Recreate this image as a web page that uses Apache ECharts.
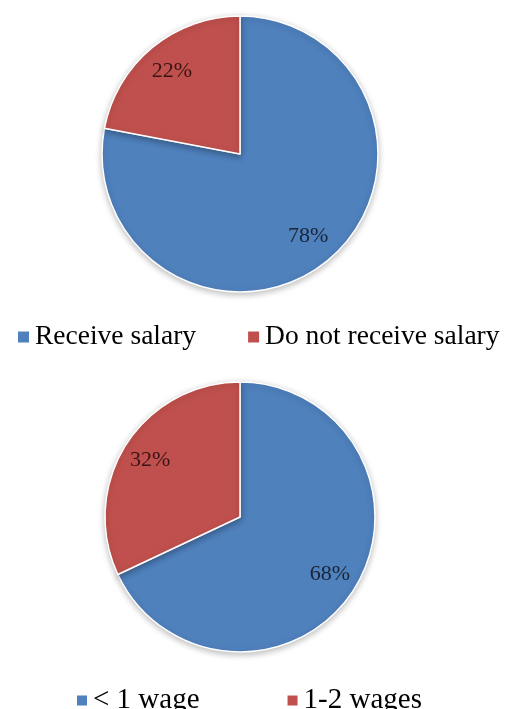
<!DOCTYPE html>
<html>
<head>
<meta charset="utf-8">
<script src="https://cdn.jsdelivr.net/npm/echarts@6/dist/echarts.min.js"></script>
<style>
  html, body { margin: 0; padding: 0; background: #fff; }
  #chart { width: 506px; height: 709px; }
</style>
</head>
<body>
<div id="chart"></div>
<script>
// top pie: salary
const salaryNames = ["Receive salary", "Do not receive salary"];
const salaryValues = [78, 22];
// bottom pie: wages
const wageNames = ["< 1 wage", "1-2 wages"];
const wageValues = [68, 32];

const sliceColors = ["#4F81BD", "#C0504D"];
const labelColors = ["#1a2438", "#3a1414"];
const serif = "Liberation Serif, Times New Roman, serif";

function toData(names, values) {
  return names.map(function (n, i) {
    return { name: n, value: values[i], itemStyle: { color: sliceColors[i] } };
  });
}

// the filled pie
function piePart(names, values, center, r) {
  return {
    type: "pie",
    center: center,
    radius: [0, r],
    startAngle: 90,
    silent: true,
    label: { show: false },
    labelLine: { show: false },
    itemStyle: {
      borderColor: "#fff",
      borderWidth: 1.5,
      shadowBlur: 6,
      shadowColor: "rgba(0,0,0,0.25)",
      shadowOffsetY: 2,
    },
    data: toData(names, values),
  };
}

// transparent ring only used to place the % labels
function labelPart(names, values, center, r0, r1) {
  return {
    type: "pie",
    center: center,
    radius: [r0, r1],
    startAngle: 90,
    silent: true,
    itemStyle: { color: "rgba(0,0,0,0)", borderWidth: 0 },
    label: {
      show: true,
      position: "inside",
      formatter: "{c}%",
      fontFamily: serif,
      fontSize: 22,
    },
    labelLine: { show: false },
    data: names.map(function (n, i) {
      return { name: n, value: values[i], label: { color: labelColors[i] } };
    }),
  };
}

const chart = echarts.init(document.getElementById("chart"));
chart.setOption({
  animation: false,
  backgroundColor: "#fff",
  legend: [
    {
      data: salaryNames,
      left: 16,
      top: 323,
      padding: 0,
      icon: "rect",
      itemWidth: 13,
      itemHeight: 13,
      itemGap: 50,
      selectedMode: false,
      textStyle: { fontFamily: serif, fontSize: 27.5, color: "#000" },
    },
    {
      data: wageNames,
      left: 75,
      top: 686,
      padding: 0,
      icon: "rect",
      itemWidth: 12,
      itemHeight: 12,
      itemGap: 86,
      selectedMode: false,
      textStyle: { fontFamily: serif, fontSize: 29, color: "#000" },
    },
  ],
  series: [
    piePart(salaryNames, salaryValues, [240, 154], 138),
    piePart(wageNames, wageValues, [240, 517], 135),
    labelPart(salaryNames, salaryValues, [240, 154], 70, 138),
    labelPart(wageNames, wageValues, [240, 517], 72, 135),
  ],
});
</script>
</body>
</html>
